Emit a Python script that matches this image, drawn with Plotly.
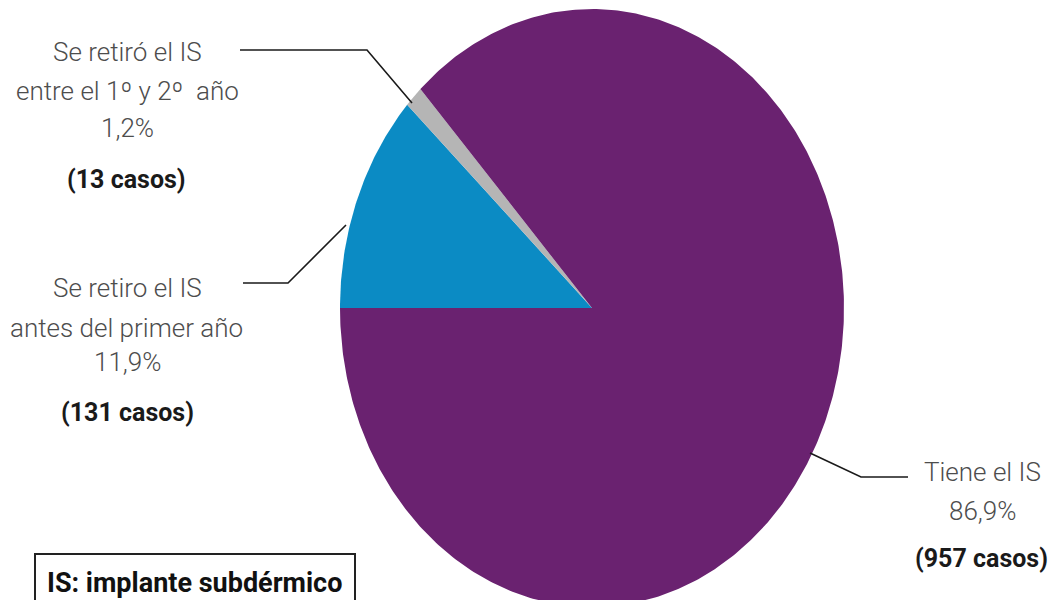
import numpy as np
import plotly.graph_objects as go

# Data
categories = [
    "Se retiro el IS antes del primer año",
    "Se retiró el IS entre el 1º y 2º año",
    "Tiene el IS",
]
casos = [131, 13, 957]
colors = ["#0B8BC4", "#B5B5B5", "#6A2270"]

W, H = 1056, 600
CX, CY = 592, 308          # pie centre in pixels
RX, RY = 252, 299          # horizontal / vertical radius in pixels

total = sum(casos)
shares = [c / total for c in casos]
pct_txt = [f"{100 * s:.1f}".replace(".", ",") + "%" for s in shares]

fig = go.Figure()

# wedges drawn clockwise starting at 9 o'clock
start = np.pi
for share, col, name in zip(shares, colors, categories):
    end = start - 2 * np.pi * share
    n = max(int(600 * share), 4)
    t = np.linspace(start, end, n)
    xs = np.concatenate([[0], np.cos(t), [0]])
    ys = np.concatenate([[0], np.sin(t), [0]])
    fig.add_trace(go.Scatter(
        x=xs, y=ys, mode="lines", fill="toself", fillcolor=col,
        line=dict(width=0, color=col), name=name, hoverinfo="skip",
        showlegend=False,
    ))
    start = end

LIGHT = dict(family="Roboto", size=26, color="#4d4d4d", weight=300)
BOLD = dict(family="Roboto", size=25, color="#1a1a1a", weight="bold")


def px(x):
    return x / W


def py(y):
    return 1 - y / H


def label(text, x, y, font):
    fig.add_annotation(text=text, x=px(x), y=py(y), xref="paper", yref="paper",
                       xanchor="center", yanchor="middle", showarrow=False,
                       font=font)


# label for the small grey slice
label("Se retiró el IS", 127, 52, LIGHT)
label("entre el 1º y 2º  año", 127, 91, LIGHT)
label(pct_txt[1], 127, 128, LIGHT)
label(f"({casos[1]} casos)", 126, 179, BOLD)

# label for the blue slice
label("Se retiro el IS", 127, 288, LIGHT)
label("antes del primer año", 126, 328, LIGHT)
label(pct_txt[0], 127, 362, LIGHT)
label(f"({casos[0]} casos)", 127, 412, BOLD)

# label for the purple slice
label("Tiene el IS", 982, 472, LIGHT)
label(pct_txt[2], 982, 511, LIGHT)
label(f"({casos[2]} casos)", 981, 558, BOLD)

# footnote box
label("IS: implante subdérmico", 194, 583,
      dict(family="Roboto", size=27, color="#111111", weight="bold"))
fig.add_shape(type="rect", xref="paper", yref="paper",
              x0=px(35), x1=px(355), y0=py(554), y1=py(615),
              line=dict(color="#222222", width=2), fillcolor="rgba(0,0,0,0)")

# leader lines
leaders = [
    [(240, 50), (367, 50), (412, 103)],
    [(243, 283), (288, 283), (346, 225)],
    [(810, 453), (861, 477), (908, 477)],
]
for pts in leaders:
    path = "M " + " L ".join(f"{px(x)},{py(y)}" for x, y in pts)
    fig.add_shape(type="path", xref="paper", yref="paper", path=path,
                  line=dict(color="#1a1a1a", width=1.6))

fig.update_xaxes(range=[-CX / RX, (W - CX) / RX], visible=False, fixedrange=True)
fig.update_yaxes(range=[-(H - CY) / RY, CY / RY], visible=False, fixedrange=True)
fig.update_layout(
    width=W, height=H,
    margin=dict(l=0, r=0, t=0, b=0),
    paper_bgcolor="white", plot_bgcolor="white",
    showlegend=False,
)

fig.write_html("out.html", config={"displayModeBar": False})
